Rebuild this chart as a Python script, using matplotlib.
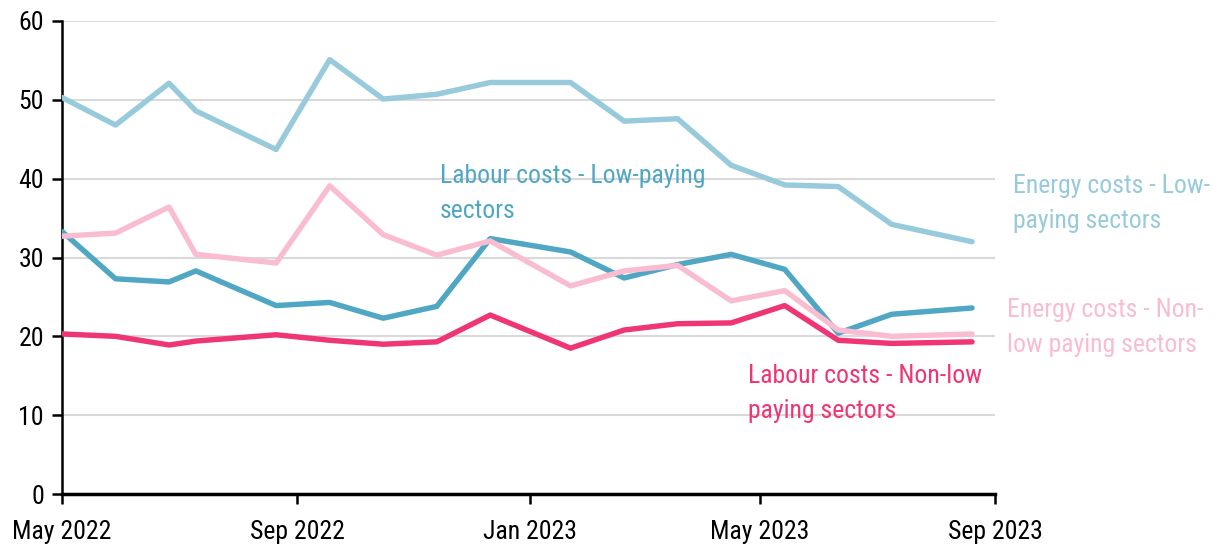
import matplotlib
matplotlib.use("Agg")
import matplotlib.pyplot as plt
import pandas as pd
from matplotlib import font_manager

# Survey wave dates
dates = pd.to_datetime([
    "2022-05-01", "2022-05-29", "2022-06-26", "2022-07-10", "2022-08-21",
    "2022-09-18", "2022-10-16", "2022-11-13", "2022-12-11", "2023-01-22",
    "2023-02-19", "2023-03-19", "2023-04-16", "2023-05-14", "2023-06-11",
    "2023-07-09", "2023-08-20",
])

energy_low = [50.3, 46.8, 52.1, 48.6, 43.7, 55.1, 50.1, 50.7, 52.2, 52.2,
              47.3, 47.6, 41.7, 39.2, 39.0, 34.2, 32.0]
energy_nonlow = [32.7, 33.1, 36.4, 30.4, 29.3, 39.1, 32.9, 30.3, 32.1, 26.4,
                 28.3, 29.0, 24.5, 25.8, 20.8, 20.0, 20.3]
labour_low = [33.3, 27.3, 26.9, 28.3, 23.9, 24.3, 22.3, 23.8, 32.4, 30.7,
              27.4, 29.1, 30.4, 28.5, 20.4, 22.8, 23.6]
labour_nonlow = [20.3, 20.0, 18.9, 19.4, 20.2, 19.5, 19.0, 19.3, 22.7, 18.5,
                 20.8, 21.6, 21.7, 23.9, 19.5, 19.1, 19.3]

tick_dates = pd.to_datetime(["2022-05-01", "2022-09-01", "2023-01-01",
                             "2023-05-01", "2023-09-01"])
tick_labels = ["May 2022", "Sep 2022", "Jan 2023", "May 2023", "Sep 2023"]
y_ticks = [0, 10, 20, 30, 40, 50, 60]

c_energy_low = "#97CADB"
c_energy_nonlow = "#F9BCD1"
c_labour_low = "#4FA7C3"
c_labour_nonlow = "#EF3573"

installed = {f.name for f in font_manager.fontManager.ttflist}
family = [f for f in ["Roboto Condensed", "Liberation Sans Narrow",
                      "DejaVu Sans Condensed", "Liberation Sans", "DejaVu Sans"]
          if f in installed]
plt.rcParams["font.family"] = family

fig = plt.figure(figsize=(12.18, 5.47), dpi=100)
ax = fig.add_axes([62 / 1218, 1 - 494 / 547, (995 - 62) / 1218, (494 - 21) / 547])

lw = 3.9
ax.plot(dates, energy_low, color=c_energy_low, lw=lw, solid_capstyle="round", zorder=3)
ax.plot(dates, labour_low, color=c_labour_low, lw=lw, solid_capstyle="round", zorder=3)
ax.plot(dates, energy_nonlow, color=c_energy_nonlow, lw=lw, solid_capstyle="round", zorder=4)
ax.plot(dates, labour_nonlow, color=c_labour_nonlow, lw=lw, solid_capstyle="round", zorder=3)

ax.set_xlim(tick_dates[0], tick_dates[-1])
ax.set_ylim(0, 60)
ax.set_yticks(y_ticks)
ax.set_xticks(tick_dates)
ax.set_xticklabels(tick_labels)

ax.grid(axis="y", color="#D9D9D9", lw=1.5, zorder=0)
ax.set_axisbelow(True)
for s in ["top", "right"]:
    ax.spines[s].set_visible(False)
ax.spines["left"].set_linewidth(1.8)
ax.spines["bottom"].set_linewidth(2.5)
ax.tick_params(axis="both", length=7, width=1.8, labelsize=18.5, colors="black")
ax.tick_params(axis="x", pad=12)
ax.tick_params(axis="y", pad=6)

fs = 18.5
ls = 1.6
ax.text(440 / 1218, 1 - 164 / 547, "Labour costs - Low-paying\nsectors",
        transform=fig.transFigure, color=c_labour_low, fontsize=fs,
        va="top", ha="left", linespacing=ls)
ax.text(1013 / 1218, 1 - 174 / 547, "Energy costs - Low-\npaying sectors",
        transform=fig.transFigure, color=c_energy_low, fontsize=fs,
        va="top", ha="left", linespacing=ls)
ax.text(1007 / 1218, 1 - 298 / 547, "Energy costs - Non-\nlow paying sectors",
        transform=fig.transFigure, color=c_energy_nonlow, fontsize=fs,
        va="top", ha="left", linespacing=ls)
ax.text(748 / 1218, 1 - 364 / 547, "Labour costs - Non-low\npaying sectors",
        transform=fig.transFigure, color=c_labour_nonlow, fontsize=fs,
        va="top", ha="left", linespacing=ls)

fig.savefig("out.png", dpi=100)
